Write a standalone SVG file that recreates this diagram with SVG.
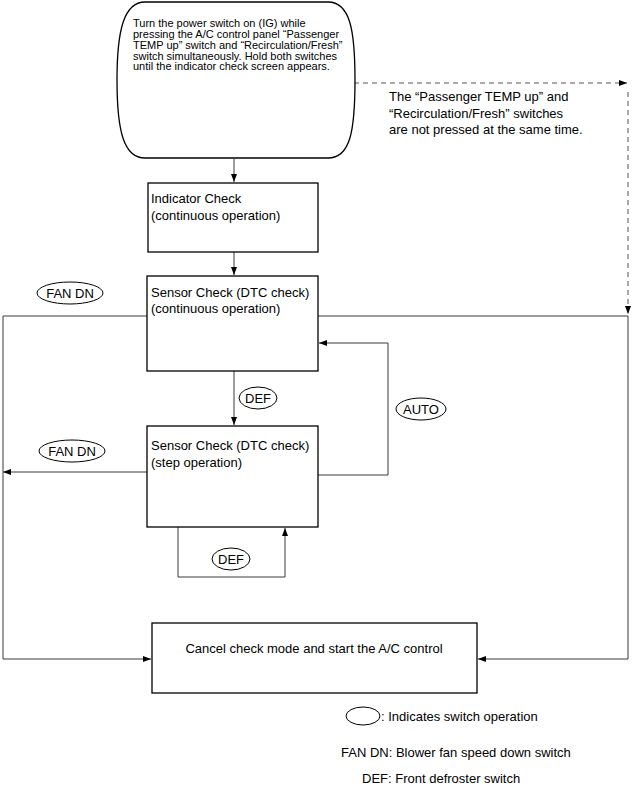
<svg xmlns="http://www.w3.org/2000/svg" width="632" height="795" viewBox="0 0 632 795">
<style>
  .box { fill: #fff; stroke: #000; stroke-width: 1.3; }
  .conn { fill: none; stroke: #3a3a3a; stroke-width: 1; }
  .dash { fill: none; stroke: #555; stroke-width: 1; stroke-dasharray: 5 4; }
  .sw { fill: #fff; stroke: #000; stroke-width: 1; }
  text { font-family: "Liberation Sans", Arial, sans-serif; fill: #000; }
  .t11 { font-size: 11px; }
  .t13 { font-size: 13px; }
  .mid { text-anchor: middle; }
</style>
<defs>
  <marker id="ah" markerUnits="userSpaceOnUse" markerWidth="9" markerHeight="7" refX="8" refY="3" orient="auto">
    <path d="M0,0 L8,3 L0,6 Z" fill="#000"/>
  </marker>
</defs>

<g id="connectors">
  <path class="conn" d="M234,159 V182" marker-end="url(#ah)"/>
  <path class="conn" d="M234,252 V275" marker-end="url(#ah)"/>
  <path class="conn" d="M234,371 V425" marker-end="url(#ah)"/>
  <path class="conn" d="M178,527 V577 H285 V528" marker-end="url(#ah)"/>
  <path class="conn" d="M318,475 H388 V343 H319" marker-end="url(#ah)"/>
  <path class="conn" d="M147,472 H3" marker-end="url(#ah)"/>
  <path class="conn" d="M147,316 H3 V659 H151" marker-end="url(#ah)"/>
  <path class="conn" d="M318,316 H628 V659 H478" marker-end="url(#ah)"/>
  <path class="dash" d="M354,83 H627" marker-end="url(#ah)"/>
  <path class="dash" d="M628,92 V314" marker-end="url(#ah)"/>
</g>

<g id="start">
  <path class="box" d="M145,2 H328 C350,2 355,30 355,80 C355,132 350,158 328,158 H145 C124,158 117,132 117,80 C117,30 124,2 145,2 Z"/>
  <text class="t11" x="133" y="27">Turn the power switch on (IG) while</text>
  <text class="t11" x="133" y="38">pressing the A/C control panel “Passenger</text>
  <text class="t11" x="133" y="49">TEMP up” switch and “Recirculation/Fresh”</text>
  <text class="t11" x="133" y="59.5">switch simultaneously. Hold both switches</text>
  <text class="t11" x="133" y="70">until the indicator check screen appears.</text>
</g>

<g id="note">
  <text class="t13" x="389" y="101">The “Passenger TEMP up” and</text>
  <text class="t13" x="389" y="118">“Recirculation/Fresh” switches</text>
  <text class="t13" x="389" y="134">are not pressed at the same time.</text>
</g>

<g id="indicator-check">
  <rect class="box" x="148" y="183" width="170" height="69"/>
  <text class="t13" x="151" y="203">Indicator Check</text>
  <text class="t13" x="151" y="220">(continuous operation)</text>
</g>

<g id="sensor-continuous">
  <rect class="box" x="147" y="276" width="171" height="95"/>
  <text class="t13" x="151" y="297">Sensor Check (DTC check)</text>
  <text class="t13" x="151" y="313">(continuous operation)</text>
</g>

<g id="sensor-step">
  <rect class="box" x="147" y="426" width="171" height="101"/>
  <text class="t13" x="151" y="450">Sensor Check (DTC check)</text>
  <text class="t13" x="151" y="467">(step operation)</text>
</g>

<g id="cancel">
  <rect class="box" x="152" y="623" width="325" height="70"/>
  <text class="t13 mid" x="314" y="653">Cancel check mode and start the A/C control</text>
</g>

<g id="sw-fandn-1">
  <ellipse class="sw" cx="70" cy="293" rx="33" ry="11"/>
  <text class="t13 mid" x="70" y="298">FAN DN</text>
</g>
<g id="sw-def-1">
  <ellipse class="sw" cx="258" cy="398" rx="19" ry="11"/>
  <text class="t13 mid" x="258" y="403">DEF</text>
</g>
<g id="sw-fandn-2">
  <ellipse class="sw" cx="72" cy="451" rx="33" ry="11"/>
  <text class="t13 mid" x="72" y="456">FAN DN</text>
</g>
<g id="sw-auto">
  <ellipse class="sw" cx="421" cy="409" rx="25" ry="11"/>
  <text class="t13 mid" x="421" y="414">AUTO</text>
</g>
<g id="sw-def-2">
  <ellipse class="sw" cx="231" cy="559" rx="19" ry="11"/>
  <text class="t13 mid" x="231" y="564">DEF</text>
</g>

<g id="legend">
  <ellipse class="sw" cx="363" cy="716" rx="17" ry="9"/>
  <text class="t13" x="381" y="721">: Indicates switch operation</text>
  <text class="t13" x="341" y="757">FAN DN: Blower fan speed down switch</text>
  <text class="t13" x="362" y="783">DEF: Front defroster switch</text>
</g>
</svg>
